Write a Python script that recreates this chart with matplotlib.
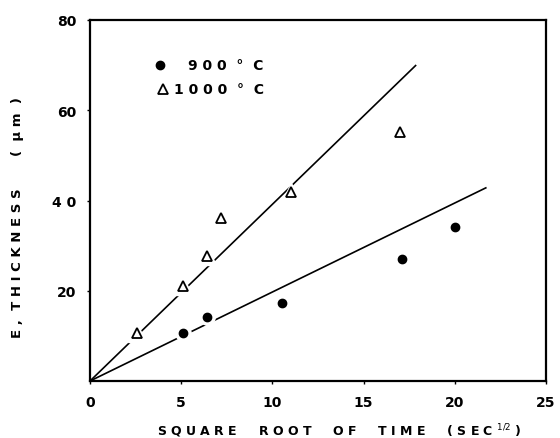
import numpy as np
import matplotlib.pyplot as plt

# data (x = sqrt(time) in sec^1/2, y = thickness in um)
x_900 = [5.1, 6.4, 10.5, 17.1, 20.0]
y_900 = [10.6, 14.2, 17.3, 27.0, 34.2]
x_1000 = [2.6, 5.1, 6.4, 7.2, 11.0, 17.0]
y_1000 = [10.6, 21.1, 27.8, 36.1, 41.9, 55.2]

# fitted lines through the origin
fit_900_end = (21.7, 42.8)
fit_1000_end = (17.85, 69.9)

xticks = [0, 5, 10, 15, 20, 25]
xtick_labels = ["0", "5", "10", "15", "20", "25"]
yticks = [20, 40, 60, 80]
ytick_labels = ["20", "4 0", "60", "80"]

plt.rcParams["font.family"] = ["DejaVu Sans"]

fig = plt.figure(figsize=(5.6, 4.39), dpi=100)
ax = fig.add_axes([0.1607, 0.1298, 0.8143, 0.8224])

ax.plot([0, fit_900_end[0]], [0, fit_900_end[1]], color="black", lw=1.2, zorder=1)
ax.plot([0, fit_1000_end[0]], [0, fit_1000_end[1]], color="black", lw=1.2, zorder=1)

# white halos so the lines break at the markers, like the original
ax.plot(x_900, y_900, "o", ms=11, color="white", mec="white", ls="none", zorder=2)
ax.plot(x_1000, y_1000, "^", ms=13, color="white", mec="white", ls="none", zorder=2)
ax.plot(x_900, y_900, "o", ms=6, color="black", ls="none", zorder=3)
ax.plot(x_1000, y_1000, "^", ms=7, mfc="white", mec="black", mew=1.3, ls="none", zorder=3)

ax.set_xlim(0, 25)
ax.set_ylim(0, 80)
ax.set_xticks(xticks)
ax.set_xticklabels(xtick_labels)
ax.set_yticks(yticks)
ax.set_yticklabels(ytick_labels)
ax.tick_params(direction="out", length=2, width=1, labelsize=10, pad=8)
for lab in ax.get_xticklabels() + ax.get_yticklabels():
    lab.set_fontweight("bold")

for spine in ax.spines.values():
    spine.set_linewidth(1.6)

# legend drawn by hand, as in the figure
ax.plot([3.85], [70.0], "o", ms=6, color="black", clip_on=False)
ax.text(5.4, 70.0, "9 0 0  °  C", fontsize=10, fontweight="bold", va="center")
ax.plot([4.0], [64.8], "^", ms=7, mfc="white", mec="black", mew=1.3, clip_on=False)
ax.text(4.6, 64.8, "1 0 0 0  °  C", fontsize=10, fontweight="bold", va="center")

ax.set_xlabel(r"S Q U A R E     R O O T     O F     T I M E     ( S E C $^{1/2}$ )",
              fontsize=9, fontweight="bold")
ax.xaxis.set_label_coords(0.546, -0.112)
ax.set_ylabel("E ,  T H I C K N E S S       (  μ m  )", fontsize=9.5,
              fontweight="bold")
ax.yaxis.set_label_coords(-0.145, 0.455)

fig.savefig("out.png", dpi=100)
